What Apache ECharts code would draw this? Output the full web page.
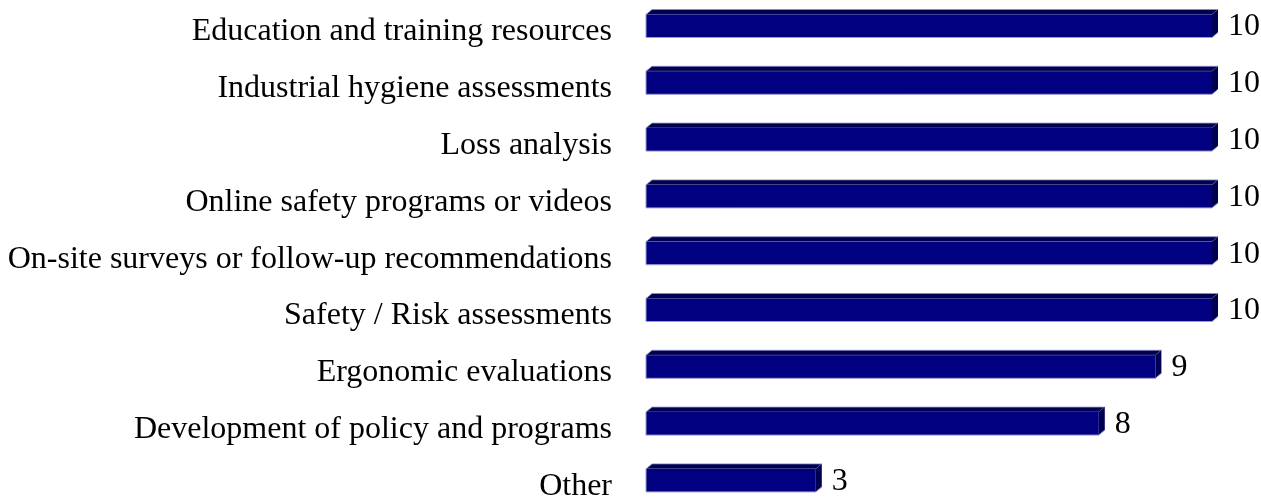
<!DOCTYPE html>
<html>
<head>
<meta charset="utf-8">
<script src="https://cdn.jsdelivr.net/npm/echarts@6/dist/echarts.min.js"></script>
<style>
html,body{margin:0;padding:0;background:#fff;}
#chart{width:1261px;height:497px;}
</style>
</head>
<body>
<div id="chart"></div>
<script>
var categories = [
  'Education and training resources',
  'Industrial hygiene assessments',
  'Loss analysis',
  'Online safety programs or videos',
  'On-site surveys or follow-up recommendations',
  'Safety / Risk assessments',
  'Ergonomic evaluations',
  'Development of policy and programs',
  'Other'
];
var values = [10, 10, 10, 10, 10, 10, 9, 8, 3];

var FONT = "'Liberation Serif', 'Times New Roman', serif";
var chart = echarts.init(document.getElementById('chart'), null, {renderer: 'canvas'});

function renderItem(params, api) {
  var idx = api.value(0);
  var val = api.value(1);
  var p0 = api.coord([0, idx]);
  var p1 = api.coord([val, idx]);
  var x0 = p0[0], x1 = p1[0], cy = p0[1];
  var fTop = cy - 17.5, fBot = cy + 5.5;
  var dx = 6, dy = 5;
  return {
    type: 'group',
    children: [
      { type: 'polygon', shape: { points: [[x0, fTop], [x0 + dx, fTop - dy], [x1 + dx, fTop - dy], [x1, fTop]] },
        style: { fill: '#00004f', stroke: '#8c8cc8', lineWidth: 0.8 } },
      { type: 'polygon', shape: { points: [[x1, fTop], [x1 + dx, fTop - dy], [x1 + dx, fBot - dy], [x1, fBot]] },
        style: { fill: '#000052', stroke: null } },
      { type: 'rect', shape: { x: x0, y: fTop, width: x1 - x0, height: fBot - fTop },
        style: { fill: '#000080', stroke: null } },
      { type: 'polyline', shape: { points: [[x0, fTop], [x0, fBot], [x1, fBot], [x1 + dx, fBot - dy]] },
        style: { fill: null, stroke: '#9a9ad6', lineWidth: 1 } },
      { type: 'text', style: { x: x1 + 16, y: cy - 5, text: String(val), fill: '#000',
        font: '32px ' + FONT, textAlign: 'left', textVerticalAlign: 'middle' } }
    ]
  };
}

chart.setOption({
  backgroundColor: '#ffffff',
  animation: false,
  grid: { left: 646, right: 49, top: 3.6, height: 511.2, containLabel: false, outerBoundsMode: 'none' },
  xAxis: { type: 'value', min: 0, max: 10, show: false },
  yAxis: {
    type: 'category', data: categories, inverse: true,
    axisLine: { show: false }, axisTick: { show: false }, splitLine: { show: false },
    axisLabel: { margin: 34, color: '#000', fontSize: 32, fontFamily: FONT }
  },
  series: [{
    type: 'custom',
    renderItem: renderItem,
    encode: { x: 1, y: 0 },
    data: values.map(function (v, i) { return [i, v]; })
  }]
});
</script>
</body>
</html>
